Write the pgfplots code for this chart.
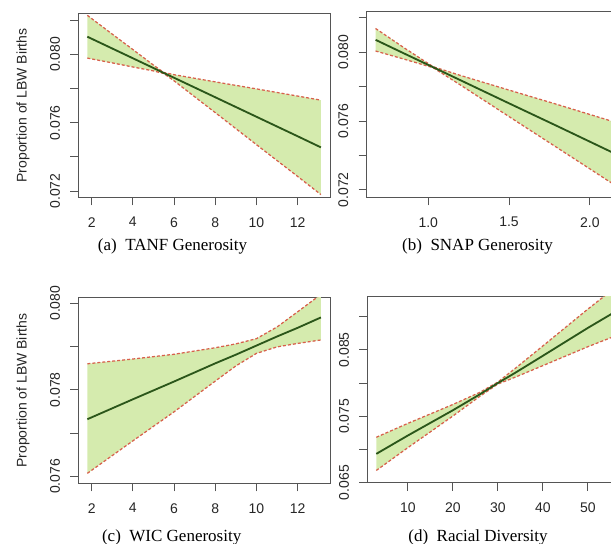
\documentclass[border=0pt]{standalone}
\usepackage{fontspec}
\setmainfont{Liberation Serif}
\newfontfamily\arial{Liberation Sans}
\usepackage{pgfplots}
\pgfplotsset{compat=1.18}
\usepackage{pgfplotstable}
\usepgfplotslibrary{fillbetween}

\definecolor{bandgreen}{HTML}{D5EBAE}
\definecolor{fitgreen}{HTML}{2B561A}
\definecolor{cired}{HTML}{D8604C}
\definecolor{framegray}{HTML}{555555}

% x, fitted proportion, lower and upper band
\pgfplotstableread{
x fit lo hi
1.79 0.08103 0.07978 0.08228
3 0.08034 0.07950 0.08118
4 0.07977 0.07926 0.08028
5 0.07920 0.07903 0.07937
5.5 0.07891 0.07888 0.07894
6 0.07863 0.07845 0.07881
8 0.07749 0.07659 0.07839
10 0.07635 0.07472 0.07798
12 0.07521 0.07286 0.07756
13.13 0.07456 0.07180 0.07732
}\tanf

\pgfplotstableread{
x fit lo hi
0.674 0.08072 0.08007 0.08138
0.85 0.07993 0.07960 0.08026
1.03 0.07913 0.07910 0.07916
1.2 0.07837 0.07809 0.07865
1.5 0.07703 0.07626 0.07780
1.8 0.07570 0.07444 0.07696
2.13 0.07422 0.07243 0.07601
2.3 0.07346 0.07139 0.07553
}\snap

\pgfplotstableread{
x fit lo hi
1.79 0.07732 0.07607 0.07860
4 0.07778 0.07682 0.07871
6 0.07819 0.07749 0.07882
8 0.07861 0.07820 0.07897
9 0.07881 0.07855 0.07906
10 0.07902 0.07884 0.07918
11 0.07923 0.07899 0.07945
12 0.07943 0.07907 0.07980
13.13 0.07967 0.07915 0.08020
}\wic

\pgfplotstableread{
x fit lo hi
3 0.06934 0.06684 0.07184
10 0.07210 0.07027 0.07393
20 0.07590 0.07503 0.07677
26 0.07830 0.07800 0.07860
30 0.08000 0.07985 0.08015
34 0.08160 0.08092 0.08228
40 0.08410 0.08262 0.08558
50 0.08830 0.08547 0.09113
55 0.09030 0.08680 0.09380
57 0.09110 0.08730 0.09490
}\race

\pgfplotsset{
  panel/.style={
    scale only axis, anchor=south west,
    axis line style={framegray, line width=0.6pt},
    tick style={framegray, line width=0.6pt},
    tick align=outside, major tick length=4.8pt,
    xtick pos=bottom, ytick pos=left,
    minor tick num=0,
    scaled y ticks=false, scaled x ticks=false,
    ticklabel style={font=\arial\fontsize{8.4}{10}\selectfont, text=black!85},
    yticklabel style={rotate=90, anchor=south, inner sep=0pt},
    xticklabel style={inner sep=0pt},
    yticklabel shift=6pt, xticklabel shift=7pt,
    every axis y label/.style={at={(axis description cs:-0.219,0.5)}, rotate=90, anchor=center,
      font=\arial\fontsize{8.4}{10}\selectfont, text=black!85},
  },
  cistyle/.style={cired, line width=0.75pt, dash pattern=on 1.8pt off 1.2pt},
  fitstyle/.style={fitgreen, line width=1.1pt},
}

\begin{document}
\begin{tikzpicture}

% (a) TANF
\begin{axis}[panel, at={(46.98pt,208.02pt)}, width=151.6pt, height=110.3pt,
    xmin=1.35, xmax=13.62, ymin=0.07164, ymax=0.08239,
    xtick={2,4,6,8,10,12}, xticklabels={2,4,6,8,10,12},
    ytick={0.072,0.074,0.076,0.078,0.080,0.082}, yticklabels={0.072,,0.076,,0.080,},
    ylabel={Proportion of LBW Births}]
  \addplot[cistyle, name path=U] table[x=x, y=hi] {\tanf};
  \addplot[cistyle, name path=L] table[x=x, y=lo] {\tanf};
  \addplot[bandgreen, draw=none] fill between[of=U and L];
  \addplot[fitstyle] table[x=x, y=fit] {\tanf};
\end{axis}

% (b) SNAP
\begin{axis}[panel, at={(220.02pt,208.02pt)}, width=167.8pt, height=111.2pt,
    xmin=0.619, xmax=2.35, ymin=0.07157, ymax=0.08234,
    xtick={1.0,1.5,2.0}, xticklabels={1.0,1.5,2.0},
    ytick={0.072,0.074,0.076,0.078,0.080,0.082}, yticklabels={0.072,,0.076,,0.080,}]
  \addplot[cistyle, name path=U] table[x=x, y=hi] {\snap};
  \addplot[cistyle, name path=L] table[x=x, y=lo] {\snap};
  \addplot[bandgreen, draw=none] fill between[of=U and L];
  \addplot[fitstyle] table[x=x, y=fit] {\snap};
\end{axis}

% (c) WIC
\begin{axis}[panel, at={(46.98pt,36.42pt)}, width=151.6pt, height=111.2pt,
    xmin=1.35, xmax=13.62, ymin=0.07584, ymax=0.08012,
    xtick={2,4,6,8,10,12}, xticklabels={2,4,6,8,10,12},
    ytick={0.076,0.077,0.078,0.079,0.080}, yticklabels={0.076,,0.078,,0.080},
    ylabel={Proportion of LBW Births}]
  \addplot[cistyle, name path=U] table[x=x, y=hi] {\wic};
  \addplot[cistyle, name path=L] table[x=x, y=lo] {\wic};
  \addplot[bandgreen, draw=none] fill between[of=U and L];
  \addplot[fitstyle] table[x=x, y=fit] {\wic};
\end{axis}

% (d) racial diversity
\begin{axis}[panel, at={(220.38pt,36.78pt)}, width=153.9pt, height=111.7pt,
    xmin=1.0, xmax=58, ymin=0.065, ymax=0.09303,
    xtick={10,20,30,40,50}, xticklabels={10,20,30,40,50},
    ytick={0.065,0.070,0.075,0.080,0.085,0.090}, yticklabels={0.065,,0.075,,0.085,}]
  \addplot[cistyle, name path=U] table[x=x, y=hi] {\race};
  \addplot[cistyle, name path=L] table[x=x, y=lo] {\race};
  \addplot[bandgreen, draw=none] fill between[of=U and L];
  \addplot[fitstyle] table[x=x, y=fit] {\race};
\end{axis}

\begin{scope}[every node/.style={anchor=base, inner sep=0pt, font=\fontsize{10.2}{12}\selectfont}]
  \node at (103.5pt,176pt) {(a)\enspace TANF Generosity};
  \node at (286.5pt,176pt) {(b)\enspace SNAP Generosity};
  \node at (103pt,1.4pt) {(c)\enspace WIC Generosity};
  \node at (286.8pt,1.4pt) {(d)\enspace Racial Diversity};
\end{scope}

\pgfresetboundingbox
\useasboundingbox (0pt,0pt) rectangle (366.6pt,326.4pt);
\end{tikzpicture}
\end{document}
